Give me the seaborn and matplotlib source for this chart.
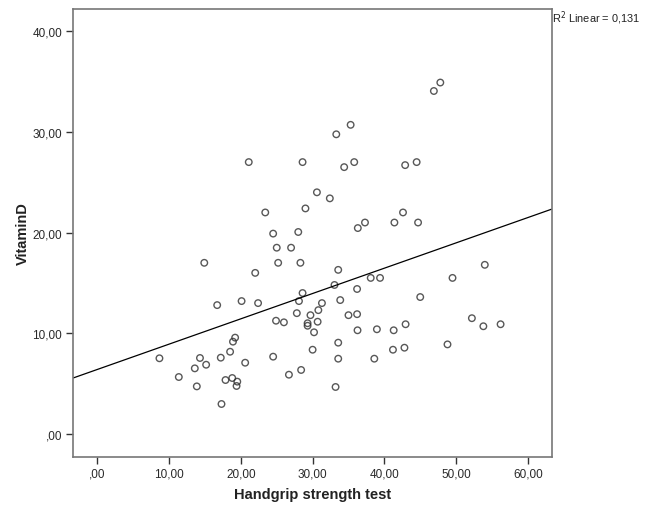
import pandas as pd
import matplotlib.pyplot as plt
import seaborn as sns
from matplotlib.ticker import FuncFormatter, MultipleLocator

# Values
handgrip = [8.65, 11.35, 13.58, 14.3, 15.16, 13.86, 17.2, 17.3, 18.5, 18.9,
            19.2, 17.86, 18.8, 19.5, 19.4, 20.6, 24.5, 26.7, 28.4, 30.0,
            30.2, 29.3, 29.3, 30.7, 24.9, 26.0, 33.57, 33.57, 33.2, 36.26,
            38.96, 38.6, 41.3, 41.2, 42.8, 42.96, 48.8, 52.2, 53.8, 56.2,
            35.0, 34.4, 30.6, 32.4, 23.4, 29.0, 24.5, 28.0, 25.0, 27.0,
            25.2, 28.3, 22.0, 33.57, 36.3, 37.3, 41.4, 42.6, 44.7, 38.1,
            39.4, 33.05, 36.2, 28.6, 28.1, 33.85, 22.4, 31.3, 30.8, 27.8,
            29.7, 36.2, 45.0, 49.5, 54.0, 14.9, 16.7, 20.1, 46.9, 47.8,
            35.3, 33.3, 21.1, 28.6, 35.8, 42.9, 44.5]
vitamin_d = [7.52, 5.66, 6.52, 7.55, 6.88, 4.73, 7.58, 2.98, 8.17, 9.17,
             9.57, 5.36, 5.56, 5.2, 4.77, 7.08, 7.68, 5.89, 6.36, 8.37,
             10.1, 11.0, 10.75, 11.15, 11.25, 11.09, 9.07, 7.48, 4.67, 10.3,
             10.4, 7.48, 10.3, 8.37, 8.57, 10.9, 8.9, 11.5, 10.7, 10.9,
             11.8, 26.5, 24.0, 23.4, 22.0, 22.4, 19.9, 20.06, 18.5, 18.5,
             17.0, 17.0, 16.0, 16.3, 20.45, 21.0, 21.0, 22.0, 21.0, 15.5,
             15.5, 14.8, 14.4, 14.0, 13.2, 13.3, 13.0, 13.0, 12.3, 12.0,
             11.8, 11.9, 13.6, 15.5, 16.8, 17.0, 12.8, 13.2, 34.06, 34.9,
             30.7, 29.76, 27.0, 27.0, 27.0, 26.7, 27.0]
r2_label = "0,131"

df = pd.DataFrame({'Handgrip strength test': handgrip, 'VitaminD': vitamin_d})

sns.set_style("white")
plt.rcParams['font.family'] = ['Liberation Sans', 'DejaVu Sans']

fig = plt.figure(figsize=(6.49, 5.06), dpi=100)
ax = fig.add_axes([0.113, 0.0955, 0.7368, 0.8847])
ax.set_xlim(-3.35, 63.3)
ax.set_ylim(-2.25, 42.2)

sns.regplot(data=df, x='Handgrip strength test', y='VitaminD', ax=ax,
            ci=None, truncate=False,
            scatter_kws=dict(s=22, facecolors='none', edgecolors='#2e2e2e', linewidths=1.0),
            line_kws=dict(color='black', lw=0.9))
ax.set_xlim(-3.35, 63.3)
ax.set_ylim(-2.25, 42.2)


def comma_fmt(v, pos):
    s = f"{v:.2f}".replace('.', ',')
    if s.startswith('0,'):
        s = s[1:]
    return s


ax.xaxis.set_major_locator(MultipleLocator(10))
ax.yaxis.set_major_locator(MultipleLocator(10))
ax.xaxis.set_major_formatter(FuncFormatter(comma_fmt))
ax.yaxis.set_major_formatter(FuncFormatter(comma_fmt))
ax.tick_params(axis='both', which='major', direction='out', length=5, width=1,
               color='#333333', labelsize=8.5, labelcolor='#2a2a2a', pad=3,
               bottom=True, left=True)
for sp in ax.spines.values():
    sp.set_color('#777777')
    sp.set_linewidth(1.2)

ax.set_xlabel('Handgrip strength test', fontsize=10.5, fontweight='bold', color='#222222', labelpad=5)
ax.set_ylabel('VitaminD', fontsize=10.5, fontweight='bold', color='#222222', labelpad=2)

fig.text(551.5 / 649, 1 - 18 / 506, 'R$^2$ Linear = ' + r2_label, fontsize=7.9,
         color='#222222', ha='left', va='center')

fig.savefig('out.png', dpi=100)
